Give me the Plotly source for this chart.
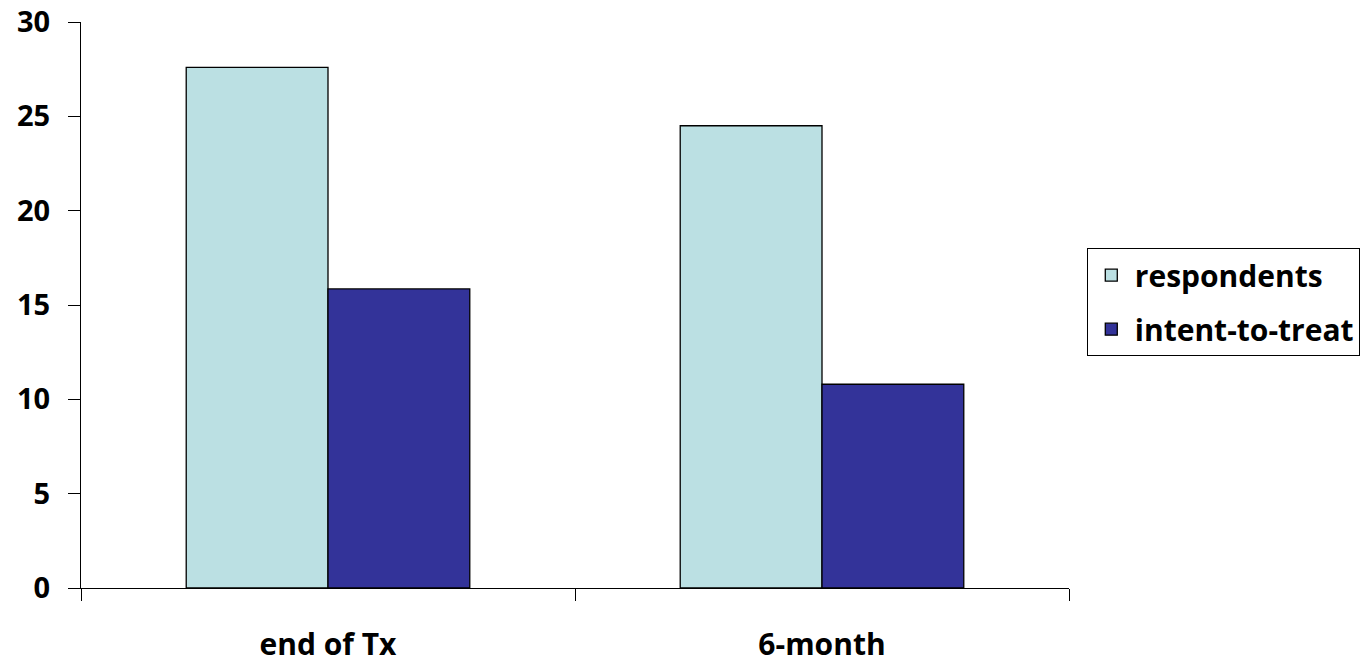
import plotly.graph_objects as go

categories = ["end of Tx", "6-month"]
respondents = [27.6, 24.5]
intent_to_treat = [15.85, 10.8]
y_ticks = [0, 5, 10, 15, 20, 25, 30]

FONT = "Open Sans"

fig = go.Figure()
fig.add_trace(go.Bar(
    name="respondents", x=categories, y=respondents, legendgroup="a",
    marker=dict(color="#BBE0E3", line=dict(color="#000000", width=1.3)),
))
fig.add_trace(go.Bar(
    name="intent-to-treat", x=categories, y=intent_to_treat, legendgroup="b",
    marker=dict(color="#333399", line=dict(color="#000000", width=1.3)),
))

fig.update_layout(
    width=1360, height=663,
    margin=dict(l=81, r=291, t=22, b=75, autoexpand=False),
    paper_bgcolor="white", plot_bgcolor="white",
    barmode="group", bargap=0.426, bargroupgap=0,
    font=dict(family=FONT, color="black", size=28),
    showlegend=True,
    legend=dict(
        x=1.018, y=0.505, xanchor="left", yanchor="middle",
        bordercolor="black", borderwidth=1,
        font=dict(family=FONT, size=30, color="black", weight="bold"),
        traceorder="grouped", tracegroupgap=12, itemwidth=37,
    ),
    xaxis=dict(
        showline=True, linecolor="black", linewidth=1,
        ticks="outside", ticklen=12, tickcolor="black",
        tickson="boundaries", automargin=False,
        tickfont=dict(family=FONT, size=30, color="black", weight="bold"),
        ticklabelstandoff=30,
        showgrid=False, zeroline=False,
    ),
    yaxis=dict(
        range=[0, 30], tickvals=y_ticks, automargin=False,
        showline=True, linecolor="black", linewidth=1,
        ticks="outside", ticklen=12, tickcolor="black",
        tickfont=dict(family=FONT, size=29, color="black", weight="bold"),
        ticklabelstandoff=12,
        showgrid=False, zeroline=False,
    ),
)

fig.write_html("out.html", config={"displayModeBar": False},
               post_script="document.body.style.margin='0px';")
